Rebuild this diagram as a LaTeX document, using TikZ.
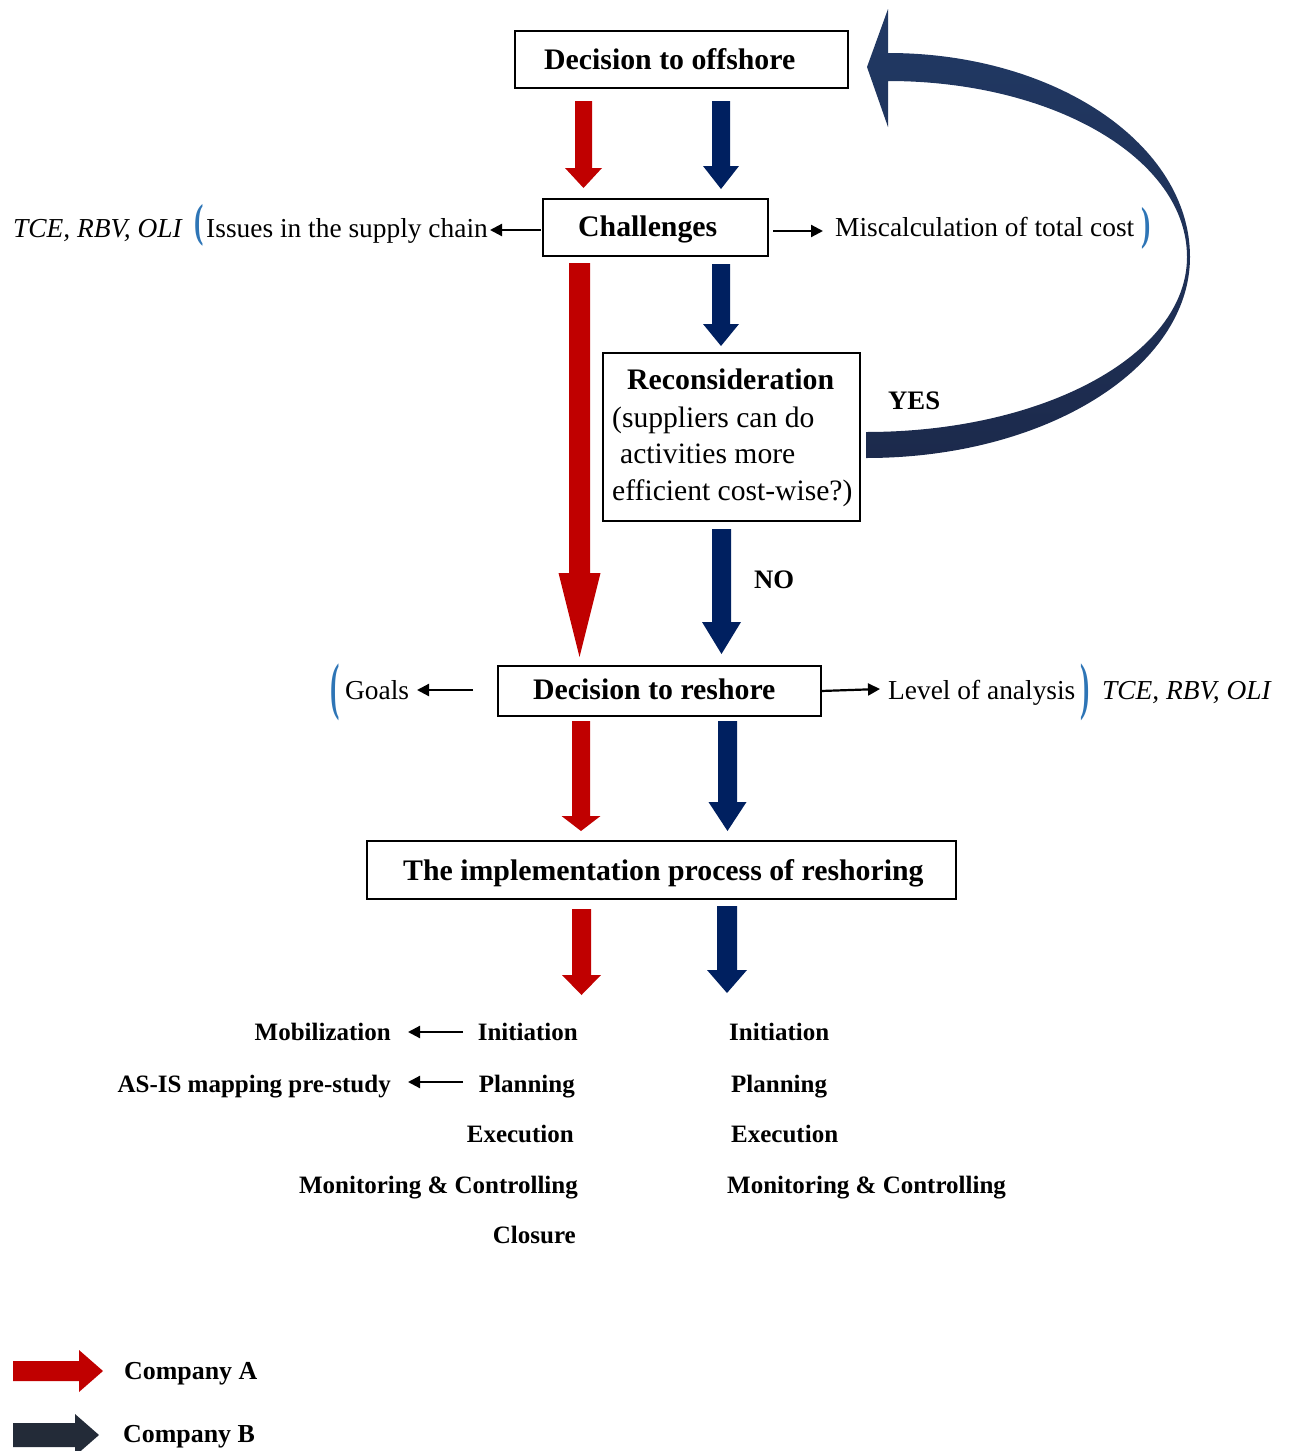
\documentclass[tikz,border=0pt]{standalone}
\usepackage{fontspec}
\setmainfont{Liberation Serif}
\usetikzlibrary{arrows.meta}
\definecolor{redA}{RGB}{192,0,0}
\definecolor{navyB}{RGB}{0,32,96}
\definecolor{curveTop}{RGB}{33,57,100}
\definecolor{curveBot}{RGB}{28,42,76}
\definecolor{legB}{RGB}{35,43,56}
\definecolor{parblue}{RGB}{46,117,182}
% down block arrow: color, x, ytop, ytip, shaft half, head half, head length
\newcommand\blkdown[7]{\fill[#1] (#2-#5,#3) -- (#2+#5,#3) -- (#2+#5,#4-#7) -- (#2+#6,#4-#7) -- (#2,#4) -- (#2-#6,#4-#7) -- (#2-#5,#4-#7) -- cycle;}
% right block arrow: color, y, xstart, xtip, shaft half, head half, head length
\newcommand\blkright[7]{\fill[#1] (#3,#2-#5) -- (#4-#7,#2-#5) -- (#4-#7,#2-#6) -- (#4,#2) -- (#4-#7,#2+#6) -- (#4-#7,#2+#5) -- (#3,#2+#5) -- cycle;}
\tikzset{
  box/.style={draw, line width=2.2pt, inner sep=0pt},
  headtxt/.style={font=\fontsize{29.8}{34}\selectfont\bfseries, inner sep=0pt},
  bodytxt/.style={font=\fontsize{29.6}{34}\selectfont, inner sep=0pt},
  sidetxt/.style={font=\fontsize{27.4}{32}\selectfont, inner sep=0pt},
  sideit/.style={font=\fontsize{27.4}{32}\selectfont\itshape, inner sep=0pt},
  itemtxt/.style={font=\fontsize{25}{30}\selectfont\bfseries, inner sep=0pt},
  labtxt/.style={font=\fontsize{26.7}{30}\selectfont\bfseries, inner sep=0pt},
  legtxt/.style={font=\fontsize{25.9}{30}\selectfont\bfseries, inner sep=0pt},
  partxt/.style={font=\fontsize{28}{30}\selectfont\bfseries, text=parblue, inner sep=0pt},
  thinarr/.style={line width=2.2pt, -{Triangle[length=12pt,width=12pt]}}
}
\begin{document}
\begin{tikzpicture}[x=1pt,y=-1pt]
\useasboundingbox (0,0) rectangle (1292,1451);

% boxes
\node[box, minimum width=333, minimum height=57] (off) at (681.5,59.5) {};
\node[box, minimum width=225, minimum height=57] (chal) at (655.5,227.5) {};
\node[box, minimum width=257, minimum height=168] (reco) at (731.5,437) {};
\node[box, minimum width=323, minimum height=50] (resh) at (659.5,691) {};
\node[box, minimum width=589, minimum height=58] (impl) at (661.5,870) {};

% box texts
\node[headtxt, anchor=base west] (toff) at (544,69.5) {Decision to offshore};
\node[headtxt, anchor=base west] (tchal) at (578,236) {Challenges};
\node[headtxt, anchor=base west] (treco) at (627,389) {Reconsideration};
\node[bodytxt, anchor=base west] (treco1) at (612,427) {(suppliers can do};
\node[bodytxt, anchor=base west] (treco2) at (620,463) {activities more};
\node[bodytxt, anchor=base west] (treco3) at (612,500) {efficient cost-wise?)};
\node[headtxt, anchor=base west] (tresh) at (533,699) {Decision to reshore};
\node[headtxt, anchor=base west] (timpl) at (403,880) {The implementation process of reshoring};

% side texts row 1
\node[sideit, anchor=base west] (th1) at (13,237) {TCE, RBV, OLI};
\node[partxt] (p1) at (199.5,225) {\scalebox{1}[1.65]{(}};
\node[sidetxt, anchor=base east] (issues) at (488,237) {Issues in the supply chain};
\node[sidetxt, anchor=base west] (miscalc) at (835,236) {Miscalculation of total cost};
\node[partxt] (p2) at (1146.5,228) {\scalebox{1}[1.65]{)}};
\coordinate (c1s) at (541,230);
\coordinate (c1e) at (490,230);
\coordinate (c2s) at (773,231);
\coordinate (c2e) at (823,231);
\draw[thinarr] (c1s) -- (c1e);
\draw[thinarr] (c2s) -- (c2e);

% side texts row 2
\node[partxt] (p3) at (335,692) {\scalebox{1}[2.25]{(}};
\node[sidetxt, anchor=base west] (goals) at (345,699) {Goals};
\node[sidetxt, anchor=base west] (level) at (888,699) {Level of analysis};
\node[partxt] (p4) at (1085,692) {\scalebox{1}[2.25]{)}};
\node[sideit, anchor=base west] (th2) at (1102,699) {TCE, RBV, OLI};
\coordinate (r1s) at (473,690);
\coordinate (r1e) at (417,690);
\coordinate (r2s) at (821,691);
\coordinate (r2e) at (880,689);
\draw[thinarr] (r1s) -- (r1e);
\draw[thinarr] (r2s) -- (r2e);

% labels
\node[labtxt, anchor=base west] (yes) at (888,409) {YES};
\node[labtxt, anchor=base west] (no) at (754,588) {NO};

% block arrows (company A red, company B navy)
\blkdown{redA}{583.5}{101}{188}{8.5}{18.5}{20}
\blkdown{navyB}{721}{101}{189}{9}{18}{23}
\blkdown{redA}{579.5}{263}{657}{10.5}{21}{84}
\blkdown{navyB}{721}{264}{346}{9}{18}{22}
\blkdown{navyB}{721.5}{529}{654}{9.5}{19.5}{32}
\blkdown{redA}{581}{721}{831}{9}{19.5}{15}
\blkdown{navyB}{727.5}{721}{831}{9.5}{19}{29}
\blkdown{redA}{581.5}{909}{995}{9.5}{19.5}{20}
\blkdown{navyB}{727}{906}{993}{10}{20}{23}

% curved YES arrow back to offshore
\path[top color=curveTop, bottom color=curveBot]
  (888,53) .. controls (1056,53) and (1190,145) .. (1190,257)
  .. controls (1190,367) and (1047,458) .. (866,458)
  -- (866,432)
  .. controls (1045,432) and (1187,354) .. (1187,257)
  .. controls (1187,159) and (1054,81) .. (888,81)
  -- (888,127) -- (867,67) -- (888,9) -- cycle;

% implementation steps, company A
\node[itemtxt, anchor=base east] (ai) at (578,1040) {Initiation};
\node[itemtxt, anchor=base east] (ap) at (575,1092) {Planning};
\node[itemtxt, anchor=base east] (ae) at (574,1142) {Execution};
\node[itemtxt, anchor=base east] (am) at (578,1193) {Monitoring \& Controlling};
\node[itemtxt, anchor=base east] (ac) at (576,1243) {Closure};
\node[itemtxt, anchor=base east] (mob) at (391,1040) {Mobilization};
\node[itemtxt, anchor=base east] (asis) at (391,1092) {AS-IS mapping pre-study};
\coordinate (m1s) at (463,1032);
\coordinate (m1e) at (408,1032);
\coordinate (m2s) at (463,1082);
\coordinate (m2e) at (408,1082);
\draw[thinarr] (m1s) -- (m1e);
\draw[thinarr] (m2s) -- (m2e);

% implementation steps, company B
\node[itemtxt, anchor=base west] (bi) at (729,1040) {Initiation};
\node[itemtxt, anchor=base west] (bp) at (731,1092) {Planning};
\node[itemtxt, anchor=base west] (be) at (731,1142) {Execution};
\node[itemtxt, anchor=base west] (bm) at (727,1193) {Monitoring \& Controlling};

% legend
\blkright{redA}{1371}{13}{103}{10}{21}{24}
\blkright{legB}{1435}{13}{99}{12}{21}{24}
\node[legtxt, anchor=base west] (la) at (124,1379) {Company A};
\node[legtxt, anchor=base west] (lb) at (123,1442) {Company B};
\end{tikzpicture}
\end{document}
